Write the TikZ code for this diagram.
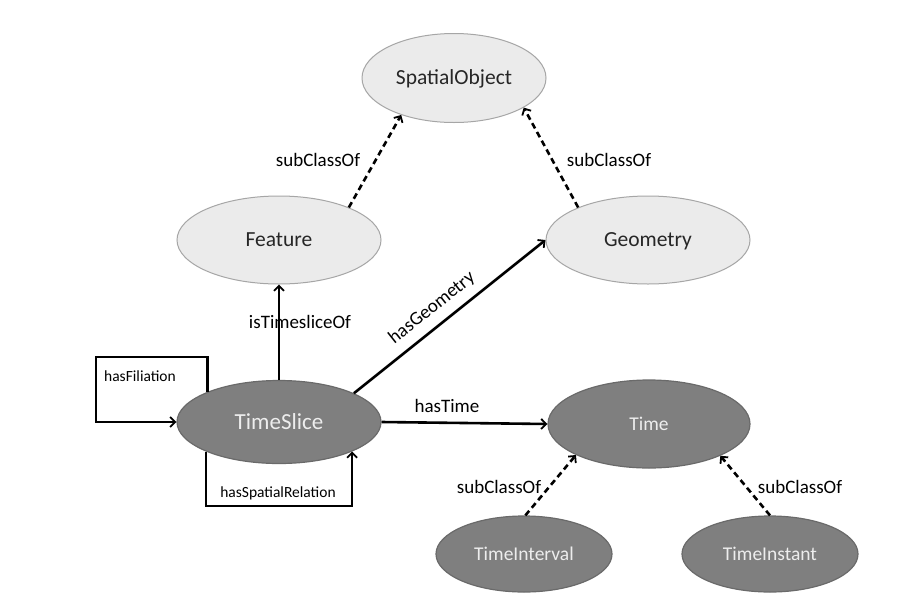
\documentclass[tikz,border=0pt]{standalone}
\usepackage{fontspec}
\setmainfont{Carlito}
\usetikzlibrary{shapes.geometric,arrows.meta}
\definecolor{lightfill}{HTML}{EBEBEB}
\definecolor{lightline}{HTML}{A6A6A6}
\definecolor{darkfill}{HTML}{7F7F7F}
\definecolor{darkline}{HTML}{6A6A6A}
\definecolor{darktext}{HTML}{EDEDED}
\definecolor{lighttext}{HTML}{262626}
\begin{document}
\begin{tikzpicture}[x=1pt,y=-1pt,
  lightnode/.style={ellipse,draw=lightline,fill=lightfill,line width=1pt,inner sep=0pt,
    minimum width=204pt,minimum height=88pt,text=lighttext,text height=13.6pt,text depth=0pt,
    font=\fontsize{21.5}{24}\selectfont},
  darknode/.style={ellipse,draw=darkline,fill=darkfill,line width=1.2pt,inner sep=0pt,
    minimum width=204pt,minimum height=86pt,text=darktext,text height=13.6pt,text depth=0pt,
    font=\fontsize{21.5}{24}\selectfont},
  smalldark/.style={darknode,minimum width=176pt,minimum height=76pt,text height=12.3pt,
    font=\fontsize{19.5}{22}\selectfont},
  rel/.style={line width=2.6pt,-{Straight Barb[length=5pt,width=10pt,line width=1.8pt]}},
  sub/.style={rel,dash pattern=on 6pt off 4pt},
  lbl/.style={inner sep=0pt,text=black,font=\fontsize{19}{22}\selectfont},
  slbl/.style={inner sep=0pt,text=black,font=\fontsize{15.5}{18}\selectfont}]
\useasboundingbox (0,0) rectangle (908,614);
\fill[white] (0,0) rectangle (908,614);

\node[lightnode,minimum width=184pt,minimum height=89pt] (spo) at (454,78) {SpatialObject};
\node[lightnode] (feat) at (279,240) {Feature};
\node[lightnode] (geom) at (648,240) {Geometry};
\node[darknode,minimum height=83pt,text height=14.5pt,font=\fontsize{23}{26}\selectfont] (ts) at (279,422) {TimeSlice};
\node[darknode,minimum width=202pt,minimum height=88pt,text height=12.3pt,font=\fontsize{19.5}{22}\selectfont] (time) at (649,424) {Time};
\node[smalldark] (tint) at (524,554) {TimeInterval};
\node[smalldark] (tins) at (770,554) {TimeInstant};

\coordinate (filA) at (96,357);
\coordinate (srA) at (0,506);

\draw[sub] (feat.25) -- (spo.215);
\draw[sub] (geom.155) -- (spo.337);
\draw[rel] (ts.north) -- (feat.south);
\draw[rel] (ts.21.5) -- (geom.west);
\draw[rel] (ts.east) -- (time.west);
\draw[rel] (ts.157.5) |- (filA) |- (ts.west);
\draw[rel] (ts.202.5) |- (ts.338.6 |- srA) -- (ts.338.6);
\draw[sub] (tint.88) -- (time.203.5);
\draw[sub] (tins.90) -- (time.336);

\node[lbl] (l1) at (318,160) {subClassOf};
\node[lbl] (l2) at (609,160) {subClassOf};
\node[lbl] (l3) at (300,322) {isTimesliceOf};
\node[lbl,rotate=38.5] (l4) at (432,308) {hasGeometry};
\node[lbl] (l5) at (447,406) {hasTime};
\node[slbl] (l6) at (140,376) {hasFiliation};
\node[slbl] (l7) at (278,493) {hasSpatialRelation};
\node[lbl] (l8) at (499,487) {subClassOf};
\node[lbl] (l9) at (800,487) {subClassOf};
\end{tikzpicture}
\end{document}
